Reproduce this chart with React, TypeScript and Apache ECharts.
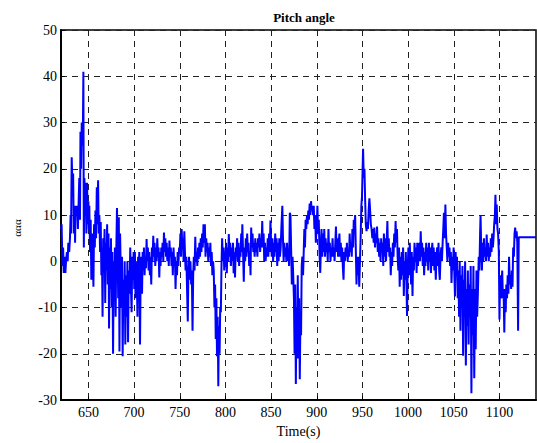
import React, { useEffect, useRef } from "react";
import * as echarts from "echarts";

const chartTitle = "Pitch angle";
const xAxisName = "Time(s)";
const yAxisName = "ααα";
const xTickValues = [650, 700, 750, 800, 850, 900, 950, 1000, 1050, 1100];
const yMin = -30;
const yMax = 50;
const yStep = 10;
const xMin = 620;
const xMax = 1140;

// [time (s), pitch angle]
const pitchSamples: [number, number][] = [
  [620, 7], [620.7, 8], [621.5, -1], [622.3, 3], [623, -2.5], [624, 1], [624.8, -2.5], [625.5, 0], [626.5, 2], [627.3, 0],
  [628, 4], [629, 2], [629.8, 5], [630.5, 10], [631, 6], [631.7, 22.5], [632.5, 17], [633.3, 19], [634, 6], [634.8, 12],
  [635.4, 4], [636, 12], [637, 10], [637.8, 12], [638.5, 7], [639.2, 12], [640, 18], [640.8, 9], [641.3, 28], [642, 20],
  [642.7, 30], [643.3, 25], [644, 29], [644.5, 41], [645, 3], [645.6, 18], [646.3, 12], [647, 17], [647.8, 6], [648.5, 17],
  [649.3, 8], [650, 13],
  [650.5, 7], [651, 12], [651.8, 2], [652.5, 9], [653.2, -4], [654, 6], [654.8, 1], [655.5, -5.5], [656.2, 8], [657, 3],
  [657.7, 11], [658.4, 5], [659.2, 16], [660, 8], [660.6, 17.5], [661.3, 6], [662, 10], [662.8, 2], [663.5, 8.5], [664.2, -3],
  [664.8, 3], [665.5, -12], [666.2, 5], [667, 0], [667.7, 7], [668.4, -9], [669, 4], [669.8, -2], [670.5, 8], [671.2, -5],
  [672, 6], [672.6, -14.5], [673.3, 3], [674, -6], [674.7, 5], [675.5, -10], [676.2, 2], [677, -20], [677.7, 0], [678.4, -8],
  [679, 3], [679.8, -12], [680.5, 2], [681.3, 11.5], [682, 3], [682.6, -8], [683.3, 9.5], [684, -19.5], [684.7, 6], [685.4, -2],
  [686, -10], [686.8, 1], [687.5, -20.5], [688.3, -4], [689, -10], [689.7, 0], [690.4, -18], [691.2, -3], [692, -12], [692.7, 0],
  [693.4, -17.5], [694.2, -2], [695, -7], [695.8, 3], [696.5, -5], [697.3, -11], [698, 1], [698.8, -4], [699.5, 2],
  [700.2, -6], [700.9, 2], [701.6, -8], [702.3, 0], [703, -3], [703.7, -12], [704.4, 1], [705, -5], [705.7, 2], [706.5, -18],
  [707.2, -3], [708, 1], [708.7, -7], [709.4, 2], [710.1, -2], [710.8, 3], [711.5, -3], [712.2, 1], [713, -1.5], [713.7, 4.8],
  [714.4, 0], [715.1, 3], [715.9, -2], [716.6, 2], [717.3, -3], [718, 1], [718.8, -5], [719.5, 3], [720.2, 0], [721, 5.5],
  [721.7, 1], [722.4, 4], [723.2, -1], [723.9, 3], [724.6, 0], [725.4, 5], [726.1, 1], [726.8, 3], [727.6, -3.5], [728.3, 2],
  [729, -1], [729.8, 3], [730.5, 1], [731.2, 4], [732, 0], [732.7, 6.2], [733.4, 2], [734.2, 5], [735, 1], [735.7, 4],
  [736.4, 0], [737.2, 3], [738, -1], [738.7, 4.5], [739.4, 1], [740.2, 3], [741, -1], [741.7, 2], [742.4, -3], [743.2, 3],
  [744, -1], [744.7, 1], [745.4, -6], [746.2, 0], [747, -3], [747.7, 2], [748.5, -1], [749.3, 3],
  [750, 2], [750.7, 6], [751.4, 1], [752.1, 7], [752.8, 3], [753.5, 5], [754.2, 0], [755, 6.5], [755.7, 2], [756.4, -2],
  [757.2, 1], [758, -6], [758.8, -13], [759.5, -2], [760.2, 1], [761, -4], [761.7, 0], [762.5, -5], [763.2, -2], [764, -15],
  [764.7, -3], [765.4, 1], [766.2, -2], [767, 5.3], [767.7, 0], [768.5, 2], [769.2, -1], [770, 3], [770.7, 0.5], [771.5, 4],
  [772.2, 1], [773, 5], [773.7, 2], [774.5, 6], [775.2, 3], [776, 8], [776.7, 4], [777.5, 8], [778.2, 1], [779, 5],
  [779.7, 2], [780.5, 4], [781.2, 0], [782, 3], [782.7, 1], [783.5, 4], [784.2, -1], [785, 2], [785.7, -3], [786.5, 0],
  [787.2, -2], [788, -10], [788.7, -5], [789.4, -16.8], [790.1, -8], [790.8, -20.5], [791.5, -12], [792.2, -27], [792.9, -14], [793.6, -20],
  [794.3, -10], [795, -11], [795.7, -1], [796.4, 5], [797.2, 0], [798, 3], [798.7, -2], [799.4, 2],
  [800, -1], [800.7, 4], [801.5, -2.6], [802.2, 3], [803, 0], [803.7, 5.9], [804.5, 1], [805.2, 4], [806, -1], [806.8, 3],
  [807.5, 0], [808.3, 4], [809, -2.6], [809.8, 2], [810.5, -3.5], [811.3, 3], [812, 1], [812.8, 5], [813.5, 0], [814.3, 4],
  [815, -1], [815.8, 3], [816.5, 1], [817.3, 6], [818, 2], [818.5, 8], [819.3, 2], [820.1, -4.4], [820.8, 3], [821.6, 0],
  [822.3, 5], [823, 1], [823.8, 6], [824.5, 2], [825.3, 4], [826, -1], [826.8, 2], [827.5, -3], [828.2, 7.3], [829, 3],
  [829.7, 6], [830.5, 2], [831.2, 4], [832, 1], [832.7, 5], [833.5, 2], [834.2, 4], [835, 1], [835.7, 5], [836.5, 3],
  [837.2, 6], [838, 2], [838.7, 5], [839.5, 3], [840.3, 8.7], [841, 3], [841.8, 6], [842.5, 0], [843.3, 4], [844, 0],
  [844.8, 3], [845.5, 1], [846.3, 5], [847, 1], [847.8, 6], [848.5, 2], [849.3, 8.8], [850, 4],
  [850.7, 1], [851.5, 5], [852.2, 0], [853, 4], [853.7, 1], [854.5, 6], [855.2, 2], [856, 5], [856.7, -1], [857.5, 4],
  [858.2, 0], [859, 5], [859.7, 1], [860.5, 3], [861.2, 7], [862.3, 12], [863, 5], [863.7, 0], [864.5, 4], [865.2, 1],
  [866, 3], [866.7, 0], [867.5, 4], [868.2, 0], [869, 2], [869.7, -1], [870.5, 10.5], [871.2, 10], [872, 2], [872.7, -5],
  [873.5, 1], [874.2, -3], [875, -8], [875.7, -20], [876.4, -5], [877.1, -26.5], [877.8, -10], [878.5, -21], [879.2, -3], [880, -21],
  [880.7, -8], [881.4, -25.5], [882.1, -12], [882.8, -16], [883.5, -1], [884.2, 1], [885, -3], [885.7, 2], [886.4, 7], [887.1, 3],
  [887.8, 9], [888.5, 7], [889.3, 10], [890, 8], [890.7, 11], [891.4, 9], [892.2, 12.5], [893, 10], [893.7, 13], [894.4, 11],
  [895.2, 12], [896, 10], [896.7, 12], [897.4, 7], [898.2, 10], [899, 4],
  [900, 8], [900.7, 12], [901.5, 6], [902.2, 9], [903, 2], [903.8, -2.5], [904.5, 3], [905.2, 7], [906, 1], [906.7, 6],
  [907.5, 2], [908.2, 7], [909, 1], [909.7, 5], [910.5, 2], [911.2, 4], [912, 0], [912.8, 7], [913.5, 2], [914.3, 4],
  [915, 0], [915.8, 3], [916.5, 1], [917.3, 5], [918, 1], [918.8, 3], [919.5, 0], [920.3, 4], [921, 7.5], [921.8, 2],
  [922.5, 5], [923.3, 1], [924, 4], [924.8, 6], [925.5, 1], [926.3, 4], [927, 0], [927.8, 3], [928.5, -1], [929.3, -4],
  [930, 2], [930.8, 0], [931.5, 3], [932.3, 1], [933, 4], [933.8, 0], [934.5, 2], [935.3, 1], [936, 6], [936.8, 2],
  [937.5, 4], [938.3, 1], [939, 7], [939.8, 3], [940.5, 9], [941.2, 6], [942, 10], [942.7, 3], [943.5, -5], [944.2, 1],
  [945, -3], [945.7, 1], [946.5, -5.5], [947.3, 0], [948, 5], [948.8, 12], [949.5, 14], [950.2, 20], [950.7, 24.3], [951.4, 18],
  [952.2, 20], [953, 13], [953.7, 8], [954.5, 6.5], [955.3, 8.5], [956, 7], [956.8, 11], [957.6, 13.6], [958.4, 11], [959.2, 8],
  [960, 7], [960.8, 5], [961.5, 7], [962.3, 4], [963, 7.3], [963.8, 3], [964.5, 6], [965.3, 4], [966, 7.5], [966.8, 2],
  [967.5, 5], [968.3, 1], [969, 4], [969.8, 0], [970.5, 5], [971.3, 2], [972, 4], [972.8, -1], [973.5, 6], [974.3, 1],
  [975, 5], [975.8, 0], [976.5, 4], [977.3, 8.7], [978, 2], [978.8, 5], [979.5, 1], [980.3, 3], [981, -3], [981.8, 2],
  [982.5, -1], [983.3, 4], [984, 1], [984.8, 6], [985.5, 3], [986.3, 8.7], [987, 4], [987.8, 7], [988.5, 1], [989.3, -2],
  [990, 3], [990.8, -5.5], [991.5, 1], [992.3, -4], [993, 2], [993.8, -3], [994.5, 3], [995.3, -7.5], [996, 0], [996.8, -4],
  [997.5, 2], [998.3, -6], [998.8, -11.8], [999.5, -2],
  [1000.3, 3], [1001, -3], [1001.8, 4], [1002.5, 0], [1003.3, -5], [1004, 2], [1004.8, -7.5], [1005.5, 1], [1006.3, -2], [1007, 4],
  [1007.8, 0], [1008.5, 3], [1009.3, -2.5], [1010, 4], [1010.8, -1], [1011.5, 2], [1012.3, 4], [1013, 0], [1013.8, 6.5], [1014.5, 1],
  [1015.3, 4], [1016, -1], [1016.8, 3], [1017.5, -3], [1018.3, 2], [1019, -1], [1019.8, 4], [1020.5, 0], [1021.3, 3], [1022, -2],
  [1022.8, 4], [1023.5, 0], [1024.3, 3], [1025, -2.5], [1025.8, 2], [1026.5, 4], [1027.3, -1], [1028, 3], [1028.8, -2], [1029.5, 2],
  [1030.3, -4], [1031, 1], [1031.8, 3], [1032.5, -1], [1033.3, 4], [1034, -2], [1034.7, -4], [1035.5, 1], [1036.3, 3], [1037, 0],
  [1037.8, 4], [1038.5, 7], [1039.2, 10.5], [1040, 5], [1040.8, 12.3], [1041.5, 6], [1042.3, 3], [1043, 0], [1043.8, 4], [1044.5, 1],
  [1045.3, 3], [1046, -1], [1046.8, 2], [1047.5, -4.7], [1048.3, 1], [1049, -2], [1049.8, 3],
  [1050.5, -2], [1051.3, -7.6], [1052, 2], [1052.8, -3], [1053.5, 1], [1054.3, -8], [1055, -2], [1055.8, -12], [1056.5, 0], [1057.3, -15],
  [1058, -3], [1058.8, -9], [1059.5, -1], [1060.2, -20.4], [1061, -4], [1061.7, -10], [1062.4, 0], [1063.2, -22.5], [1064, -6], [1064.7, -14],
  [1065.4, -2], [1066.2, -18], [1067, -5], [1067.7, -12], [1068.5, -1], [1069.3, -28.5], [1070, -6], [1070.8, -16], [1071.5, -1], [1072.4, -25.3],
  [1073.2, -6], [1074, -19], [1074.8, -2], [1075.6, -12], [1076.5, -6], [1077.3, 1], [1078, -2], [1078.8, 6], [1079.3, 10], [1080, 3],
  [1080.8, -2], [1081.5, 4], [1082.3, 0], [1083, 5], [1083.8, 1], [1084.5, 3], [1085.3, 0], [1086, 5.8], [1086.8, 1], [1087.5, 4],
  [1088.3, 0], [1089, 3], [1089.8, 1], [1090.5, 5], [1091.3, 2], [1092, 6], [1092.8, 3], [1093.5, 5], [1094.2, 8], [1095, 10],
  [1095.6, 14.4], [1096.3, 8], [1097, 12.3], [1097.8, 7], [1098.5, 6], [1099.3, 2],
  [1100, -12.6], [1100.7, -3], [1101.5, -8], [1102.3, -5], [1103, -2], [1103.8, -8], [1104.5, -6], [1105.3, -15.4], [1106, -6], [1106.8, -11],
  [1107.5, -5], [1108.3, -8], [1109, -3], [1109.8, -7], [1110.5, 1], [1111.3, -5], [1112, -3], [1112.8, -6], [1113.5, -2], [1114.3, -5.5],
  [1115, 3], [1115.8, 1], [1116.5, 6], [1117.2, 7.3], [1118, 5], [1118.8, 6.5], [1119.5, 4], [1120.4, -15], [1121.1, 5.2], [1140, 5.2],
];

const FONT = "Liberation Serif";

export default function App() {
  const ref = useRef<HTMLDivElement>(null);
  useEffect(() => {
    if (!ref.current) return;
    const chart = echarts.init(ref.current, null, { renderer: "svg" });
    const dashed = { color: "#222", width: 1, type: [6, 5] as any };
    chart.setOption({
      animation: false,
      backgroundColor: "#fff",
      title: {
        text: chartTitle,
        left: 299,
        top: 6,
        textAlign: "center",
        textStyle: { fontFamily: FONT, fontSize: 13, fontWeight: "bold", color: "#000" },
      },
      graphic: [
        {
          type: "text",
          x: 17,
          y: 228,
          rotation: Math.PI / 2,
          style: {
            text: yAxisName,
            fontFamily: FONT,
            fontSize: 11,
            fill: "#000",
            align: "center",
            verticalAlign: "middle",
          },
        },
      ],
      grid: {
        left: 61,
        right: 1,
        top: 30,
        bottom: 37,
        show: true,
        borderColor: "#000",
        borderWidth: 1.5,
        backgroundColor: "transparent",
      },
      xAxis: {
        type: "value",
        min: xMin,
        max: xMax,
        name: xAxisName,
        nameLocation: "middle",
        nameGap: 22,
        nameTextStyle: { fontFamily: FONT, fontSize: 14, color: "#000" },
        axisLine: { show: true, onZero: false, lineStyle: { color: "#000", width: 2 } },
        axisTick: { show: true, inside: true, length: 4, customValues: xTickValues, lineStyle: { color: "#000" } },
        axisLabel: {
          customValues: xTickValues,
          formatter: (v: number) => String(v),
          fontFamily: FONT,
          fontSize: 14,
          color: "#000",
          margin: 5,
        },
        splitLine: { show: true, lineStyle: dashed },
      },
      yAxis: {
        type: "value",
        min: yMin,
        max: yMax,
        interval: yStep,
        axisLine: { show: true, onZero: false, lineStyle: { color: "#000", width: 2 } },
        axisTick: { show: true, inside: true, length: 4, lineStyle: { color: "#000" } },
        axisLabel: { fontFamily: FONT, fontSize: 14, color: "#000", margin: 4 },
        splitLine: { show: true, lineStyle: dashed },
      },
      series: [
        {
          type: "line",
          data: pitchSamples,
          showSymbol: false,
          symbol: "none",
          clip: true,
          lineStyle: { color: "#0000ff", width: 2 },
          z: 3,
        },
      ],
    });
    return () => chart.dispose();
  }, []);
  return <div ref={ref} style={{ width: 537, height: 443, position: "absolute", left: 0, top: 0 }} />;
}
